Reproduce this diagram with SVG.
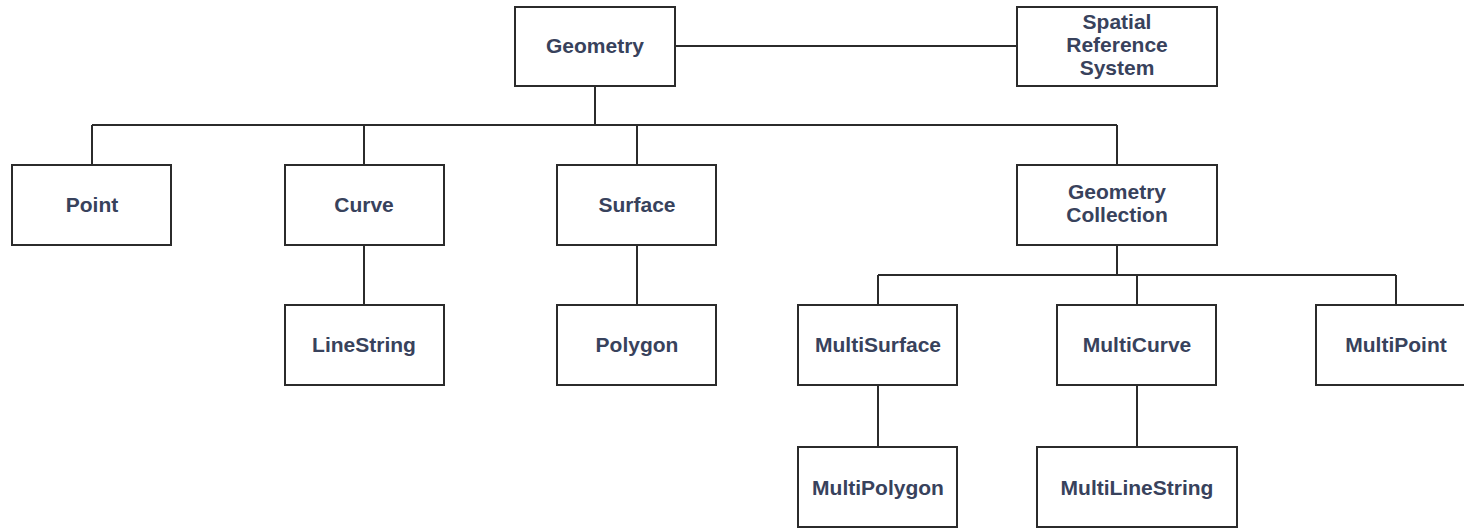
<svg xmlns="http://www.w3.org/2000/svg" width="1464" height="529" viewBox="0 0 1464 529">
<style>
.box{fill:#fff;stroke:#2b2b2b;stroke-width:2}
.lbl{font-family:"Liberation Sans",Arial,sans-serif;font-weight:bold;font-size:21px;fill:#38425c;text-anchor:middle}
.con{fill:none;stroke:#2b2b2b;stroke-width:2}
</style>
<rect width="1464" height="529" fill="#fff"/>
<g id="connectors">
<path class="con" d="M675 46 H1017"/>
<path class="con" d="M595 86 V125 M92 125 H1117 M92 125 V165 M364 125 V165 M637 125 V165 M1117 125 V165"/>
<path class="con" d="M364 245 V305 M637 245 V305"/>
<path class="con" d="M1117 245 V275 M878 275 H1396 M878 275 V305 M1137 275 V305 M1396 275 V305"/>
<path class="con" d="M878 385 V447 M1137 385 V447"/>
</g>
<g id="geometry"><rect class="box" x="515" y="7" width="160" height="79"/><text class="lbl" x="595" y="53">Geometry</text></g>
<g id="srs"><rect class="box" x="1017" y="7" width="200" height="79"/><text class="lbl" x="1117" y="29">Spatial</text><text class="lbl" x="1117" y="52">Reference</text><text class="lbl" x="1117" y="75">System</text></g>
<g id="point"><rect class="box" x="12" y="165" width="159" height="80"/><text class="lbl" x="92" y="212">Point</text></g>
<g id="curve"><rect class="box" x="285" y="165" width="159" height="80"/><text class="lbl" x="364" y="212">Curve</text></g>
<g id="surface"><rect class="box" x="557" y="165" width="159" height="80"/><text class="lbl" x="637" y="212">Surface</text></g>
<g id="geometrycollection"><rect class="box" x="1017" y="165" width="200" height="80"/><text class="lbl" x="1117" y="199">Geometry</text><text class="lbl" x="1117" y="222">Collection</text></g>
<g id="linestring"><rect class="box" x="285" y="305" width="159" height="80"/><text class="lbl" x="364" y="352">LineString</text></g>
<g id="polygon"><rect class="box" x="557" y="305" width="159" height="80"/><text class="lbl" x="637" y="352">Polygon</text></g>
<g id="multisurface"><rect class="box" x="798" y="305" width="159" height="80"/><text class="lbl" x="878" y="352">MultiSurface</text></g>
<g id="multicurve"><rect class="box" x="1057" y="305" width="159" height="80"/><text class="lbl" x="1137" y="352">MultiCurve</text></g>
<g id="multipoint"><rect class="box" x="1316" y="305" width="160" height="80"/><text class="lbl" x="1396" y="352">MultiPoint</text></g>
<g id="multipolygon"><rect class="box" x="798" y="447" width="159" height="80"/><text class="lbl" x="878" y="495">MultiPolygon</text></g>
<g id="multilinestring"><rect class="box" x="1037" y="447" width="200" height="80"/><text class="lbl" x="1137" y="495">MultiLineString</text></g>
</svg>
